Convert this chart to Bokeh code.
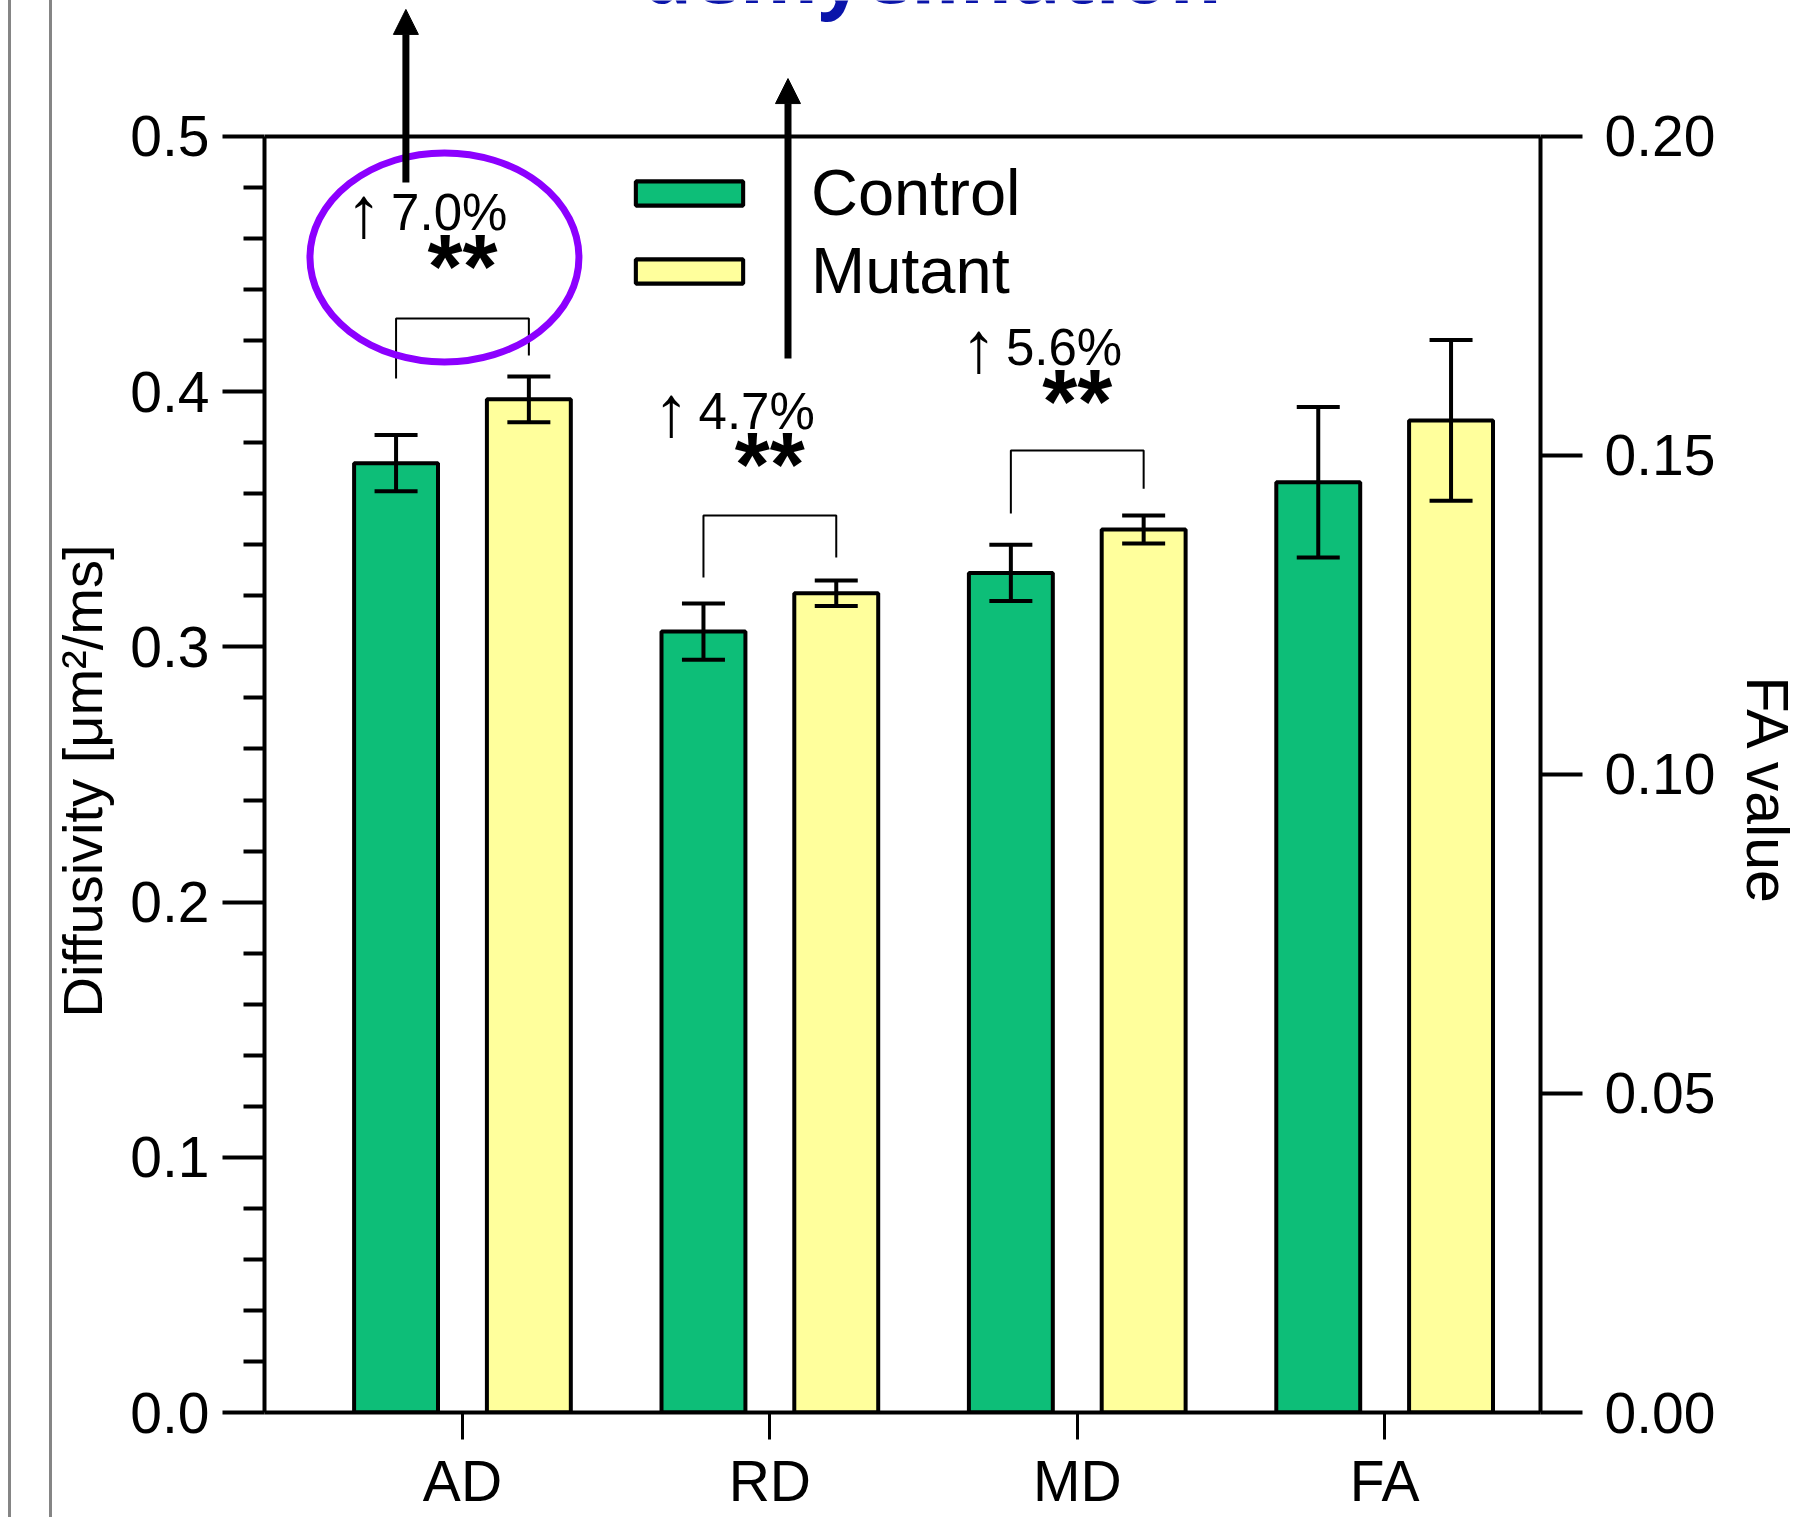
from bokeh.plotting import figure
from bokeh.models import (Range1d, LinearAxis, FixedTicker, NumeralTickFormatter, Whisker,
                          TeeHead, ColumnDataSource, Label, Arrow, NormalHead, Span, Title,
                          InlineStyleSheet)
from bokeh.core.properties import value
from bokeh.embed import file_html
from bokeh.resources import INLINE

# ---------------- data ----------------
categories = ["AD", "RD", "MD", "FA"]
series = ["Control", "Mutant"]
control = [0.372, 0.306, 0.329, 0.1458]        # AD/RD/MD: diffusivity ; FA: FA value
mutant = [0.397, 0.321, 0.346, 0.1555]
control_err = [0.011, 0.011, 0.011, 0.0118]
mutant_err = [0.009, 0.005, 0.0055, 0.0126]
diff_ticks = [0.0, 0.1, 0.2, 0.3, 0.4, 0.5]
fa_ticks = [0.0, 0.05, 0.10, 0.15, 0.20]
change_text = ["7.0%", "4.7%", "5.6%"]
change_y = [0.4704, 0.3924, 0.4175]
star_text = ["**", "**", "**"]
star_y = [0.4487, 0.3711, 0.3958]
bracket_top = [0.4287, 0.3515, 0.377]
bracket_left_end = [0.4052, 0.3272, 0.3523]
bracket_right_end = [0.4142, 0.335, 0.362]
title_text = "demyelination"
y_label = "Diffusivity [\u03bcm\u00b2/ms]"
y2_label = "FA value"

# ---------------- style ----------------
GREEN = "#0DBE78"
YELLOW = "#FFFF9C"
FONT = "Liberation Sans"
OFF = 0.216
BW = 0.273
Y_END = 0.55329
FA_FACTOR = 0.4

n_diff = 3
xs = list(range(len(categories)))

p = figure(width=1819, height=1517, output_backend="svg", toolbar_location=None,
           x_range=Range1d(-0.644, 3.507), y_range=Range1d(0, Y_END),
           y_axis_location=None,
           min_border_left=264, min_border_right=279, min_border_top=0, min_border_bottom=105)
p.extra_y_ranges = {"fa": Range1d(0, Y_END * FA_FACTOR)}
p.grid.visible = False
p.outline_line_color = None
p.background_fill_color = "white"
p.border_fill_color = "white"

# left axis
diff_minor = [round(0.02 * k, 2) for k in range(26) if k % 5]
yl = LinearAxis(ticker=FixedTicker(ticks=diff_ticks, minor_ticks=diff_minor),
                formatter=NumeralTickFormatter(format="0.0"), bounds=(0, 0.5))
# right axis
yr = LinearAxis(y_range_name="fa", ticker=FixedTicker(ticks=fa_ticks),
                formatter=NumeralTickFormatter(format="0.00"), bounds=(0, 0.2))
for ax, standoff in ((yl, 13), (yr, 22)):
    ax.axis_line_width = 4
    ax.axis_line_color = "black"
    ax.major_tick_line_width = 4
    ax.minor_tick_line_width = 4
    ax.major_tick_out = 42
    ax.major_tick_in = 0
    ax.minor_tick_out = 21
    ax.minor_tick_in = 0
    ax.major_label_text_font = FONT
    ax.major_label_text_font_size = "57px"
    ax.major_label_text_color = "black"
    ax.major_label_standoff = standoff
p.add_layout(yl, "left")
p.add_layout(yr, "right")

xa = p.xaxis[0]
xa.ticker = FixedTicker(ticks=xs)
xa.major_label_overrides = {i: c for i, c in enumerate(categories)}
xa.axis_line_width = 4
xa.major_tick_line_width = 3
xa.major_tick_out = 27
xa.major_tick_in = 0
xa.minor_tick_line_color = None
xa.major_label_text_font = FONT
xa.major_label_text_font_size = "57px"
xa.major_label_text_color = "black"
xa.major_label_standoff = 9

# axis titles
p.add_layout(Title(text=y_label, align="left", offset=395, standoff=28,
                   text_font=FONT, text_font_size="56px", text_font_style="normal",
                   text_color="black"), "left")
p.add_layout(Title(text=y2_label, align="left", offset=676, standoff=30,
                   text_font=FONT, text_font_size="59px", text_font_style="normal",
                   text_color="black"), "right")

# top frame line
p.add_layout(Span(location=0.5, dimension="width", line_color="black", line_width=4))

# bars + error bars
for vals, errs, off, col, name in ((control, control_err, -OFF, GREEN, series[0]),
                                   (mutant, mutant_err, OFF, YELLOW, series[1])):
    p.vbar(x=[i + off for i in xs[:n_diff]], top=vals[:n_diff], width=BW, fill_color=col,
           line_color="black", line_width=4, legend_label=name)
    p.vbar(x=[i + off for i in xs[n_diff:]], top=vals[n_diff:], width=BW, fill_color=col,
           line_color="black", line_width=4, y_range_name="fa", legend_label=name)
    for sl, rng in ((slice(0, n_diff), "default"), (slice(n_diff, None), "fa")):
        v = vals[sl]
        e = errs[sl]
        src = ColumnDataSource(dict(x=[i + off for i in xs[sl]],
                                    upper=[a + b for a, b in zip(v, e)],
                                    lower=[a - b for a, b in zip(v, e)]))
        w = Whisker(source=src, base="x", upper="upper", lower="lower",
                    line_width=4, line_color="black", level="annotation",
                    upper_head=TeeHead(size=43, line_width=4, line_color="black"),
                    lower_head=TeeHead(size=43, line_width=4, line_color="black"))
        if rng == "fa":
            w.y_range_name = "fa"
        p.add_layout(w)

# significance brackets
bx = [[i - OFF, i - OFF, i + OFF, i + OFF] for i in xs[:n_diff]]
by = [[l, t, t, r] for l, t, r in zip(bracket_left_end, bracket_top, bracket_right_end)]
p.multi_line(xs=bx, ys=by, line_color="black", line_width=2)

p.text(x=[i - 0.32 for i in xs[:n_diff]], y=change_y, text=["\u2191"] * n_diff,
       text_font=value(FONT), text_font_size="72px", text_align="center",
       text_baseline="alphabetic", text_color="black")
p.text(x=[i - 0.043 for i in xs[:n_diff]], y=change_y, text=change_text,
       text_font=value(FONT), text_font_size="51px", text_align="center",
       text_baseline="alphabetic", text_color="black")
p.text(x=[i for i in xs[:n_diff]], y=star_y, text=star_text,
       text_font=value(FONT), text_font_size="90px", text_font_style="bold",
       text_align="center", text_baseline="alphabetic", text_color="black")

# highlight ellipse
p.ellipse(x=[-0.0586], y=[0.4526], width=0.875, height=0.082, fill_color=None,
          line_color="#8C00FF", line_width=7)

# arrows
for ax_, y0, y1 in ((-0.184, 0.482, 0.5498), (1.059, 0.413, 0.5227)):
    p.add_layout(Arrow(end=NormalHead(size=25, fill_color="black", line_color="black", line_width=1),
                       x_start=ax_, y_start=y0, x_end=ax_, y_end=y1,
                       line_width=7, line_color="black"))

# cut-off title text
p.add_layout(Label(x=1.527, y=0.5647, text=title_text, text_font="Open Sans",
                   text_font_style="bold", text_font_size="80px", text_color="#0A14AA",
                   text_align="center", text_baseline="alphabetic"))

lg = p.legend[0]
lg.location = (358, 1104)
lg.glyph_width = 134
lg.glyph_height = 30
lg.label_standoff = 55
lg.spacing = 3
lg.padding = 10
lg.margin = 0
lg.label_text_font = FONT
lg.label_text_font_size = "65px"
lg.label_text_color = "black"
lg.border_line_color = None
lg.background_fill_alpha = 0

# thin grey panel borders at the far left edge
p.stylesheets = [InlineStyleSheet(css=(
    ":host::after { content: ''; position: absolute; left: 8px; top: 0px; width: 44px;"
    " height: 1517px; border-left: 3px solid #858585; border-right: 3px solid #858585;"
    " box-sizing: border-box; pointer-events: none; z-index: 5; }"))]

open("out.html", "w").write(file_html(p, INLINE))
